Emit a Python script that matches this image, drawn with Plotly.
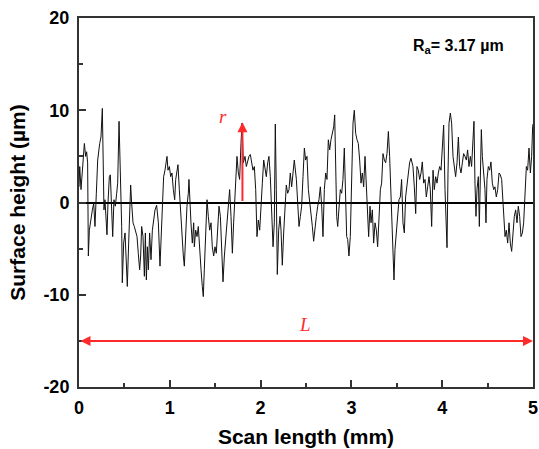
import plotly.graph_objects as go

scan_x = [
    0.000, 0.008, 0.022, 0.037, 0.059, 0.073, 0.084, 0.095, 0.103, 0.114,
    0.132, 0.147, 0.162, 0.176, 0.191, 0.206, 0.228, 0.242, 0.257, 0.264,
    0.275, 0.286, 0.297, 0.308, 0.319, 0.334, 0.345, 0.360, 0.371, 0.385,
    0.400, 0.415, 0.426, 0.441, 0.455, 0.470, 0.477, 0.492, 0.507, 0.521,
    0.532, 0.547, 0.558, 0.569, 0.580, 0.595, 0.609, 0.624, 0.639, 0.653,
    0.668, 0.679, 0.690, 0.705, 0.720, 0.731, 0.742, 0.753, 0.764, 0.778,
    0.793, 0.808, 0.822, 0.837, 0.855, 0.874, 0.892, 0.903, 0.918, 0.932,
    0.947, 0.969, 0.980, 0.995, 1.010, 1.024, 1.039, 1.054, 1.065, 1.079,
    1.090, 1.105, 1.120, 1.134, 1.149, 1.160, 1.175, 1.189, 1.204, 1.211,
    1.233, 1.248, 1.263, 1.270, 1.285, 1.300, 1.314, 1.329, 1.344, 1.358,
    1.369, 1.380, 1.395, 1.410, 1.424, 1.439, 1.454, 1.468, 1.483, 1.498,
    1.512, 1.527, 1.542, 1.557, 1.571, 1.586, 1.601, 1.615, 1.630, 1.645,
    1.659, 1.674, 1.689, 1.703, 1.718, 1.733, 1.740, 1.755, 1.769, 1.784,
    1.795, 1.810, 1.828, 1.843, 1.857, 1.872, 1.887, 1.901, 1.916, 1.931,
    1.946, 1.960, 1.975, 1.990, 2.004, 2.019, 2.034, 2.048, 2.063, 2.078,
    2.092, 2.107, 2.122, 2.137, 2.151, 2.162, 2.173, 2.184, 2.199, 2.214,
    2.225, 2.239, 2.254, 2.269, 2.283, 2.298, 2.313, 2.327, 2.342, 2.357,
    2.371, 2.394, 2.408, 2.423, 2.438, 2.452, 2.467, 2.482, 2.496, 2.511,
    2.526, 2.540, 2.555, 2.570, 2.584, 2.599, 2.614, 2.629, 2.643, 2.658,
    2.673, 2.687, 2.702, 2.717, 2.731, 2.746, 2.761, 2.775, 2.790, 2.805,
    2.816, 2.827, 2.838, 2.849, 2.863, 2.878, 2.893, 2.907, 2.922, 2.937,
    2.948, 2.959, 2.973, 2.988, 3.003, 3.018, 3.032, 3.047, 3.062, 3.076,
    3.091, 3.106, 3.120, 3.135, 3.150, 3.164, 3.179, 3.190, 3.205, 3.216,
    3.231, 3.245, 3.260, 3.275, 3.289, 3.304, 3.319, 3.333, 3.348, 3.363,
    3.377, 3.392, 3.407, 3.421, 3.436, 3.447, 3.458, 3.469, 3.480, 3.495,
    3.509, 3.524, 3.539, 3.553, 3.568, 3.583, 3.597, 3.612, 3.627, 3.641,
    3.656, 3.678, 3.693, 3.708, 3.722, 3.737, 3.752, 3.767, 3.781, 3.796,
    3.811, 3.825, 3.840, 3.855, 3.869, 3.884, 3.899, 3.913, 3.928, 3.943,
    3.957, 3.972, 3.987, 4.001, 4.016, 4.031, 4.042, 4.053, 4.064, 4.075,
    4.090, 4.104, 4.119, 4.134, 4.148, 4.163, 4.178, 4.192, 4.207, 4.222,
    4.236, 4.251, 4.266, 4.280, 4.295, 4.310, 4.324, 4.339, 4.350, 4.361,
    4.372, 4.383, 4.398, 4.409, 4.420, 4.431, 4.442, 4.456, 4.471, 4.482,
    4.493, 4.508, 4.523, 4.537, 4.552, 4.567, 4.581, 4.596, 4.611, 4.626,
    4.640, 4.655, 4.670, 4.681, 4.692, 4.706, 4.721, 4.736, 4.750, 4.765,
    4.780, 4.794, 4.809, 4.824, 4.838, 4.853, 4.868, 4.883, 4.897, 4.912,
    4.927, 4.941, 4.956, 4.971, 4.985, 4.996, 5.000,
]
surface_height = [
    1.7, 3.9, 1.4, 3.2, 6.4, 5.0, 5.5, 4.3, -5.8, -3.0,
    -1.5, -0.8, -0.1, -2.6, 1.0, 4.6, 6.4, 7.1, 10.2, 6.8,
    -0.8, 0.3, -1.5, -3.5, -0.1, 2.8, 3.0, -0.4, -3.7, 0.3,
    -0.4, 1.0, 2.1, 8.8, 3.5, -2.6, -8.7, -4.4, -3.3, -6.6,
    -9.1, -4.4, -0.4, 1.9, -0.1, -2.2, -2.6, -3.3, -3.7, -5.5,
    -7.3, -5.8, -2.6, -3.7, -8.0, -3.3, -8.4, -4.8, -7.3, -3.3,
    -6.2, -3.0, -1.9, -0.8, -0.3, -2.2, -6.9, -3.7, 0.6, 2.8,
    3.5, 5.0, 3.5, 3.9, 2.8, 3.2, 1.4, 0.3, 2.5, 3.5,
    4.1, 1.4, -1.5, -4.4, -5.8, -6.9, -3.7, -0.4, 1.0, 2.5,
    -2.2, -4.4, -2.2, -4.8, -3.0, -3.7, -2.6, -5.8, -7.3, -9.1,
    -10.2, -7.3, -4.0, 0.3, -1.5, -3.0, -2.2, -4.8, -5.8, -4.8,
    -5.5, -3.0, -0.4, -1.5, -5.1, -8.6, -5.8, -4.0, -2.2, 0.3,
    1.4, -1.5, -5.5, -2.2, 0.3, 2.5, 5.0, 3.2, 2.5, 6.4,
    8.6, 4.3, 5.0, 3.9, 4.6, 5.0, 5.2, 4.3, 3.5, 3.9,
    1.4, -3.7, -1.9, -3.0, 0.3, 2.1, 4.6, 3.9, 2.8, 4.3,
    5.0, 2.8, -2.2, -4.8, -2.2, 8.5, 1.4, -7.8, -3.0, -1.5,
    -3.0, -6.8, -3.3, 0.3, 1.9, 1.0, 1.4, 3.2, 1.7, 3.2,
    4.6, 2.5, -0.4, -2.6, -1.5, -0.4, 2.8, 5.9, 4.6, 5.0,
    1.4, 0.3, -1.5, -2.6, -4.2, -2.6, -1.5, -0.4, 0.3, 1.7,
    -0.4, -3.7, 1.4, 3.2, 2.5, 6.8, 5.7, 6.8, 7.5, 8.2,
    9.5, 4.6, -1.5, -2.6, -0.8, 1.4, 1.0, 2.5, 5.9, -0.1,
    -3.7, -4.0, -5.8, -3.7, 2.1, 8.6, 10.0, 7.5, 6.8, 6.4,
    4.6, 2.1, 3.2, 1.7, 5.0, 1.4, -1.2, -3.7, -0.4, -2.2,
    -0.8, -4.4, -2.2, -3.0, -4.8, -0.8, 1.4, 2.1, 5.3, 4.6,
    4.3, 5.3, 7.7, 5.0, 0.3, -3.0, -5.5, -8.4, -5.1, -3.0,
    -0.8, 0.3, 0.6, 2.5, -2.2, -3.3, 0.6, 2.1, 3.5, 4.3,
    4.8, 3.9, 1.7, -1.2, 3.9, 3.5, 2.5, 3.2, 4.4, 2.1,
    2.5, 0.6, 1.7, 2.8, 1.4, -2.6, 3.5, 1.4, 2.8, 2.1,
    3.2, 3.9, 3.5, 6.4, 8.4, 1.4, -3.3, -4.9, 3.2, 8.6,
    9.7, 8.6, 5.0, 3.9, 2.8, 4.3, 7.1, 3.9, 3.2, 4.3,
    5.3, 5.0, 4.6, 5.7, 3.9, 5.0, 3.9, 6.8, 8.8, 2.1,
    -1.5, 1.4, 2.8, -2.6, 3.2, 7.9, 5.0, 2.8, 1.4, -2.2,
    2.5, 3.9, 3.5, 4.4, 2.1, 1.4, 1.7, 0.6, 1.4, 3.2,
    3.0, 2.5, -0.1, -2.2, -3.7, -3.0, -4.4, -2.2, -4.4, -5.3,
    -3.3, -1.5, -0.8, -2.2, -0.4, -1.5, -3.7, -3.3, -2.2, 1.4,
    3.9, 3.5, 5.9, 3.2, 5.0, 8.2, 8.5,
]

x_ticks = [0, 1, 2, 3, 4, 5]
y_ticks = [-20, -10, 0, 10, 20]

# Annotation values
ra_text = "R<sub>a</sub>= 3.17 µm"
r_x, r_top = 1.80, 8.7          # arrow marking a peak height r
L_start, L_end, L_y = 0.0, 5.0, -15.0  # evaluation length L

red = "#ff2b2b"

fig = go.Figure()
fig.add_trace(go.Scatter(
    x=scan_x, y=surface_height, mode="lines",
    line=dict(color="#111111", width=1), showlegend=False,
))

axis_font = dict(family="Liberation Sans, Arial, sans-serif", size=18, color="black")
title_font = dict(family="Liberation Sans, Arial, sans-serif", size=21, color="black")

fig.update_layout(
    width=539, height=449,
    margin=dict(l=79, r=6, t=18, b=62),
    paper_bgcolor="white", plot_bgcolor="white",
    font=dict(family="Liberation Sans, Arial, sans-serif", color="black"),
    xaxis=dict(
        range=[0, 5], tickvals=x_ticks, ticktext=[f"<b>{v}</b>" for v in x_ticks],
        ticks="inside", ticklen=7, tickwidth=1.5, tickcolor="#333",
        minor=dict(dtick=0.5, ticks="inside", ticklen=4, tickwidth=1.5, tickcolor="#333"),
        showline=True, linecolor="#333", linewidth=2, mirror=True,
        showgrid=False, zeroline=False, tickfont=axis_font, automargin=False,
        ticklabelstandoff=3,
        title=dict(text="<b>Scan length (mm)</b>", font=title_font, standoff=13),
    ),
    yaxis=dict(
        range=[-20, 20], tickvals=y_ticks, ticktext=[f"<b>{v}</b>" for v in y_ticks],
        ticks="inside", ticklen=7, tickwidth=1.5, tickcolor="#333",
        minor=dict(dtick=5, ticks="inside", ticklen=4, tickwidth=1.5, tickcolor="#333"),
        showline=True, linecolor="#333", linewidth=2, mirror=True,
        showgrid=False, zeroline=True, zerolinecolor="black", zerolinewidth=2,
        tickfont=axis_font, ticklabelstandoff=4, automargin=False,
        title=dict(text="<b>Surface height (µm)</b>", font=title_font, standoff=12),
    ),
)

# Ra label
fig.add_annotation(x=4.18, y=16.9, xref="x", yref="y", text=f"<b>{ra_text}</b>",
                   showarrow=False, font=dict(family="Liberation Sans, Arial, sans-serif", size=16, color="black"))

# r arrow
fig.add_annotation(x=r_x, y=r_top, ax=r_x, ay=0, xref="x", yref="y", axref="x", ayref="y",
                   text="", showarrow=True, arrowhead=2, arrowsize=1, arrowwidth=2, arrowcolor=red, standoff=0)
fig.add_annotation(x=1.59, y=9.3, xref="x", yref="y", text="<i>r</i>", showarrow=False,
                   font=dict(family="Liberation Serif, Times New Roman, serif", size=19, color=red))

# L double arrow
fig.add_annotation(x=L_end, y=L_y, ax=L_start, ay=L_y, xref="x", yref="y", axref="x", ayref="y",
                   text="", showarrow=True, arrowhead=2, arrowside="end+start", arrowsize=1,
                   arrowwidth=2, arrowcolor=red, standoff=0, startstandoff=0)
fig.add_annotation(x=2.49, y=-13.2, xref="x", yref="y", text="<i>L</i>", showarrow=False,
                   font=dict(family="Liberation Serif, Times New Roman, serif", size=19, color=red))

fig.write_html("out.html", config={"displayModeBar": False},
               post_script="document.body.style.margin='0px';")
